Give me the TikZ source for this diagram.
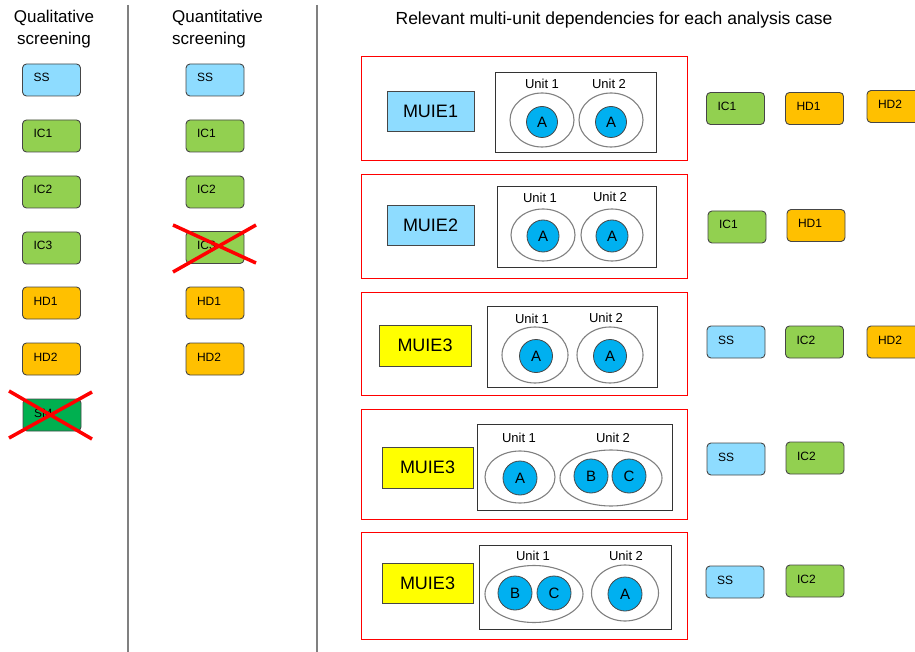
\documentclass[tikz,border=0pt]{standalone}
\usepackage{fontspec}
\setmainfont{Liberation Sans}
\usetikzlibrary{shapes.geometric}
\definecolor{ssblue}{RGB}{142,220,255}
\definecolor{icgreen}{RGB}{146,208,80}
\definecolor{hdorange}{RGB}{255,192,0}
\definecolor{smgreen}{RGB}{0,176,80}
\definecolor{muieyellow}{RGB}{255,255,0}
\definecolor{circblue}{RGB}{0,176,240}
\definecolor{edgegray}{RGB}{70,70,70}
\definecolor{divgray}{RGB}{128,128,128}
\begin{document}
\begin{tikzpicture}[x=1pt,y=-1pt,
  tag/.style={draw=edgegray, rounded corners=4pt, minimum width=58, minimum height=32,
    text width=36, inner xsep=11, inner ysep=0, align=left, text height=9, text depth=5,
    font=\fontsize{12}{14}\selectfont, line width=0.9},
  ss/.style={tag, fill=ssblue},
  ic/.style={tag, fill=icgreen},
  hd/.style={tag, fill=hdorange},
  sm/.style={tag, fill=smgreen},
  case/.style={draw=red, line width=0.8, inner sep=0},
  muie/.style={draw=edgegray, line width=0.8, inner sep=0, font=\fontsize{18}{20}\selectfont},
  unitbox/.style={draw=black!80, line width=0.8, inner sep=0},
  unit/.style={ellipse, draw=black!50, line width=1.1, inner sep=0, fill=white},
  comp/.style={circle, draw=edgegray, fill=circblue, line width=0.8, inner sep=0, font=\fontsize{15}{17}\selectfont},
  ulabel/.style={font=\fontsize{13}{15}\selectfont, inner sep=0},
  head/.style={font=\fontsize{17}{22}\selectfont, inner sep=0},
  cross/.style={draw=red, line width=3.5},
  divider/.style={draw=divgray, line width=1.4}
]
\useasboundingbox (0,0) rectangle (915,652);

% dividers
\coordinate (d1t) at (128,5); \coordinate (d1b) at (128,652);
\coordinate (d2t) at (317,5); \coordinate (d2b) at (317,652);
\draw[divider] (d1t) -- (d1b);
\draw[divider] (d2t) -- (d2b);

% headings
\node[head, align=center] (h1) at (54,29) {Qualitative\\screening};
\node[head, align=left, anchor=west] (h2) at (172,29) {Quantitative\\screening};
\node[head, font=\fontsize{17.5}{22}\selectfont] (h3) at (614,20) {Relevant multi-unit dependencies for each analysis case};

% qualitative column
\node[ss] (a1) at (51.5,80) {SS};
\node[ic] (a2) at (51.5,136) {IC1};
\node[ic] (a3) at (51.5,192) {IC2};
\node[ic] (a4) at (51.5,248) {IC3};
\node[hd] (a5) at (51.5,303) {HD1};
\node[hd] (a6) at (51.5,359) {HD2};
\node[sm] (a7) at (52,415) {SM};
\coordinate (x1a) at (9,391); \coordinate (x1b) at (92,439);
\coordinate (x1c) at (9,438); \coordinate (x1d) at (92,392);
\draw[cross] (x1a) -- (x1b);
\draw[cross] (x1c) -- (x1d);

% quantitative column
\node[ss] (b1) at (215,80) {SS};
\node[ic] (b2) at (215,136) {IC1};
\node[ic] (b3) at (215,192) {IC2};
\node[ic] (b4) at (215,247.5) {IC3};
\node[hd] (b5) at (215,303) {HD1};
\node[hd] (b6) at (215,359) {HD2};
\coordinate (x2a) at (173,225); \coordinate (x2b) at (256,263);
\coordinate (x2c) at (173,272); \coordinate (x2d) at (256,225);
\draw[cross] (x2a) -- (x2b);
\draw[cross] (x2c) -- (x2d);

% ---------- case 1
\node[case, minimum width=326, minimum height=103.5] (c1) at (524,108.2) {};
\node[muie, fill=ssblue, minimum width=87, minimum height=40] (m1) at (430.5,111) {MUIE1};
\node[unitbox, minimum width=161, minimum height=80] (u1) at (575.5,112) {};
\node[unit, minimum width=64, minimum height=54] (e11) at (542,120) {};
\node[unit, minimum width=64, minimum height=54] (e12) at (611,120) {};
\node[comp, minimum size=31] (k11) at (542,122) {A};
\node[comp, minimum size=31] (k12) at (611,122) {A};
\node[ulabel] (l11) at (542,84) {Unit 1};
\node[ulabel] (l12) at (609,84) {Unit 2};

% ---------- case 2
\node[case, minimum width=326, minimum height=104] (c2) at (524,226) {};
\node[muie, fill=ssblue, minimum width=87, minimum height=40] (m2) at (430.5,225) {MUIE2};
\node[unitbox, minimum width=159, minimum height=81] (u2) at (576.5,226.5) {};
\node[unit, minimum width=64, minimum height=52] (e21) at (543,235) {};
\node[unit, minimum width=62, minimum height=52] (e22) at (612,235) {};
\node[comp, minimum size=32] (k21) at (543,236) {A};
\node[comp, minimum size=32] (k22) at (612,236) {A};
\node[ulabel] (l21) at (540,198) {Unit 1};
\node[ulabel] (l22) at (610,197) {Unit 2};

% ---------- case 3
\node[case, minimum width=326, minimum height=103] (c3) at (524,343.5) {};
\node[muie, fill=muieyellow, minimum width=92, minimum height=41] (m3) at (425,345.5) {MUIE3};
\node[unitbox, minimum width=170, minimum height=81] (u3) at (572,346.5) {};
\node[unit, minimum width=66, minimum height=56] (e31) at (535,355) {};
\node[unit, minimum width=66, minimum height=56] (e32) at (610,355) {};
\node[comp, minimum size=33] (k31) at (536,356) {A};
\node[comp, minimum size=33] (k32) at (610,356) {A};
\node[ulabel] (l31) at (532,319) {Unit 1};
\node[ulabel] (l32) at (606,318) {Unit 2};

% ---------- case 4
\node[case, minimum width=326, minimum height=110] (c4) at (524,464) {};
\node[muie, fill=muieyellow, minimum width=91, minimum height=41] (m4) at (427.5,467.5) {MUIE3};
\node[unitbox, minimum width=195, minimum height=86] (u4) at (574.5,467) {};
\node[unit, minimum width=70, minimum height=52] (e41) at (520,477) {};
\node[unit, minimum width=102, minimum height=56] (e42) at (611,478) {};
\node[comp, minimum size=34] (k41) at (520,478) {A};
\node[comp, minimum size=34] (k42) at (591,476) {B};
\node[comp, minimum size=34] (k43) at (629,476) {C};
\node[ulabel] (l41) at (519,438) {Unit 1};
\node[ulabel] (l42) at (613,438) {Unit 2};

% ---------- case 5
\node[case, minimum width=326, minimum height=107] (c5) at (524,585.5) {};
\node[muie, fill=muieyellow, minimum width=91, minimum height=40] (m5) at (427.5,583) {MUIE3};
\node[unitbox, minimum width=192, minimum height=84] (u5) at (575,587) {};
\node[unit, minimum width=98, minimum height=57] (e51) at (534,594) {};
\node[unit, minimum width=67, minimum height=56] (e52) at (625,593) {};
\node[comp, minimum size=34] (k51) at (515,593) {B};
\node[comp, minimum size=34] (k52) at (554,593) {C};
\node[comp, minimum size=34] (k53) at (625,594) {A};
\node[ulabel] (l51) at (533,556) {Unit 1};
\node[ulabel] (l52) at (626,556) {Unit 2};

% ---------- right-hand tags
\node[ic] (r11) at (735.5,108.5) {IC1};
\node[hd] (r12) at (814.5,108.5) {HD1};
\node[hd] (r13) at (896,106.5) {HD2};
\node[ic] (r21) at (737,227) {IC1};
\node[hd] (r22) at (816,225.5) {HD1};
\node[ss] (r31) at (736,342) {SS};
\node[ic] (r32) at (814.5,342) {IC2};
\node[hd] (r33) at (896,342) {HD2};
\node[ss] (r41) at (736,459) {SS};
\node[ic] (r42) at (815,458) {IC2};
\node[ss] (r51) at (735,582) {SS};
\node[ic] (r52) at (815,581) {IC2};
\end{tikzpicture}
\end{document}
